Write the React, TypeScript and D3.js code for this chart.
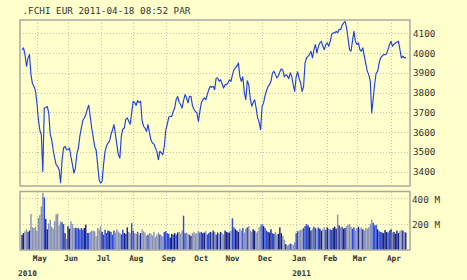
import React from 'react';
import * as d3 from 'd3';

// Daily closes (trading days), by month
const apr10 = [4017, 4026, 3990, 3933, 3975, 3992, 3891, 3845, 3832, 3810];
const may10 = [3750, 3665, 3610, 3587, 3402, 3722, 3725, 3730, 3697, 3590, 3562, 3510, 3469, 3436, 3427, 3410, 3345, 3460, 3520, 3528, 3511];
const jun10 = [3511, 3520, 3475, 3436, 3393, 3420, 3490, 3520, 3580, 3621, 3660, 3672, 3688, 3715, 3736, 3680, 3621, 3575, 3528, 3510, 3436, 3360];
const jul10 = [3343, 3351, 3436, 3503, 3530, 3545, 3554, 3587, 3610, 3638, 3590, 3537, 3486, 3469, 3580, 3615, 3621, 3665, 3672, 3655, 3640, 3700];
const aug10 = [3756, 3750, 3735, 3760, 3750, 3756, 3660, 3630, 3621, 3604, 3638, 3596, 3560, 3545, 3540, 3520, 3503, 3461, 3503, 3495, 3486, 3530];
const sep10 = [3610, 3640, 3675, 3680, 3680, 3705, 3722, 3765, 3781, 3750, 3740, 3722, 3760, 3790, 3773, 3748, 3781, 3781, 3735, 3716, 3705, 3697];
const oct10 = [3655, 3705, 3748, 3764, 3773, 3764, 3790, 3815, 3832, 3827, 3832, 3815, 3874, 3874, 3857, 3865, 3845, 3823, 3840, 3840, 3849];
const nov10 = [3865, 3857, 3890, 3916, 3925, 3935, 3950, 3882, 3857, 3880, 3800, 3764, 3860, 3840, 3770, 3731, 3750, 3764, 3722, 3672, 3650, 3613];
const dec10 = [3730, 3748, 3785, 3810, 3830, 3840, 3857, 3899, 3908, 3891, 3874, 3885, 3905, 3920, 3915, 3880, 3890, 3885, 3870, 3900, 3882, 3840, 3806];
const jan11 = [3880, 3905, 3870, 3850, 3806, 3830, 3950, 3975, 3983, 3992, 4009, 3975, 4017, 4043, 4000, 4034, 4051, 4059, 4034, 4017, 4043];
const feb11 = [4051, 4034, 4059, 4095, 4102, 4102, 4110, 4102, 4120, 4118, 4140, 4152, 4160, 4130, 4076, 4017, 4009, 4060, 4110, 4059];
const mar11 = [4043, 4051, 4017, 4009, 4026, 3984, 3945, 3908, 3891, 3860, 3697, 3770, 3845, 3899, 3907, 3950, 3975, 3984, 3992, 3992, 3995, 4017, 4043];
const apr11 = [4059, 4034, 4045, 4051, 4055, 4060, 4020, 3975, 3984, 3975, 3978];

// Daily volume (millions), by month
const apr10V = [118, 131, 144, 160, 140, 150, 278, 175, 170, 180];
const may10V = [150, 250, 270, 337, 441, 407, 240, 160, 205, 234, 180, 165, 221, 275, 282, 190, 221, 215, 200, 130, 85];
const jun10V = [183, 165, 221, 200, 170, 172, 168, 170, 157, 170, 157, 170, 196, 131, 131, 139, 149, 149, 144, 105, 170, 157];
const jul10V = [183, 140, 118, 157, 131, 150, 145, 140, 118, 150, 135, 160, 144, 131, 120, 157, 131, 125, 175, 140, 130, 208];
const aug10V = [150, 130, 125, 140, 118, 131, 160, 144, 135, 110, 118, 131, 125, 112, 140, 100, 118, 135, 120, 112, 105, 140];
const sep10V = [145, 130, 125, 95, 125, 120, 130, 118, 135, 140, 125, 150, 265, 130, 135, 125, 118, 110, 130, 140, 125, 130];
const oct10V = [150, 135, 140, 130, 135, 145, 120, 130, 140, 135, 150, 140, 118, 135, 125, 140, 130, 120, 150, 140, 135];
const nov10V = [135, 150, 245, 175, 160, 150, 140, 165, 150, 170, 135, 165, 175, 185, 150, 140, 160, 150, 135, 145, 175, 190];
const dec10V = [200, 185, 170, 150, 140, 135, 160, 130, 125, 140, 118, 125, 175, 130, 110, 80, 45, 35, 40, 50, 45, 40, 60];
const jan11V = [130, 145, 150, 155, 160, 170, 185, 200, 190, 175, 150, 165, 180, 170, 160, 175, 165, 150, 160, 175, 155];
const feb11V = [175, 165, 160, 155, 170, 180, 165, 273, 190, 175, 180, 165, 170, 185, 195, 200, 180, 165, 175, 150];
const mar11V = [170, 180, 165, 175, 160, 150, 170, 165, 175, 200, 234, 210, 190, 195, 160, 145, 140, 135, 130, 155, 140, 135, 150];
const apr11V = [160, 135, 140, 125, 150, 130, 145, 155, 150, 140, 135];

const priceTicks = [3400, 3500, 3600, 3700, 3800, 3900, 4000, 4100];
const volTicks = [200, 400];
const monthLabels = ['May', 'Jun', 'Jul', 'Aug', 'Sep', 'Oct', 'Nov', 'Dec', 'Jan', 'Feb', 'Mar', 'Apr'];
const yearLabels = ['2010', '2011'];
const title = '.FCHI EUR 2011-04-18 08:52 PAR';

const closes = [...apr10, ...may10, ...jun10, ...jul10, ...aug10, ...sep10, ...oct10, ...nov10, ...dec10, ...jan11, ...feb11, ...mar11, ...apr11];
const volumes = [...apr10V, ...may10V, ...jun10V, ...jul10V, ...aug10V, ...sep10V, ...oct10V, ...nov10V, ...dec10V, ...jan11V, ...feb11V, ...mar11V, ...apr11V];

// trading dates (weekdays) 2010-04-19 .. 2011-04-15
const dates = d3.utcDay
  .range(new Date(Date.UTC(2010, 3, 19)), new Date(Date.UTC(2011, 3, 16)))
  .filter((d) => d.getUTCDay() !== 0 && d.getUTCDay() !== 6);

const W = 467;
const H = 280;
const BG = '#ffffcc';
const FRAME = '#a9a9a2';
const GRID = '#c4c4b0';
const TEXT = '#333333';
const MONO = '"DejaVu Sans Mono", monospace';

export default function App() {
  const n = closes.length;
  const x = d3.scaleLinear().domain([0, n - 1]).range([22.07, 405.8]);
  const yP = d3.scaleLinear().domain([3328, 4167]).range([186, 20]);
  const yV = d3.scaleLinear().domain([0, 452]).range([250, 191.5]);

  const line = d3
    .line<number>()
    .x((_, i) => x(i))
    .y((v) => yP(v));

  const monthStarts: number[] = [];
  for (let i = 1; i < dates.length; i++) {
    if (dates[i].getUTCMonth() !== dates[i - 1].getUTCMonth()) monthStarts.push(i);
  }
  const janIdx = monthStarts.find((i) => dates[i].getUTCMonth() === 0) ?? 0;
  const yearPos = [x(0) - 4, x(janIdx) - 4];

  const pTop = 20, pBot = 186, vTop = 191.5, vBot = 250, left = 20, right = 410;
  const barColors = ['#14208e', '#2a48dc', '#8890ba'];

  return (
    <svg width={W} height={H} style={{ position: 'absolute', left: 0, top: 0 }}>
      <rect x={0} y={0} width={W} height={H} fill={BG} />
      <g stroke={GRID} strokeWidth={1} strokeDasharray="1,2" shapeRendering="crispEdges">
        {priceTicks.map((t) => (
          <line key={'hp' + t} x1={left} x2={right} y1={Math.round(yP(t)) + 0.5} y2={Math.round(yP(t)) + 0.5} />
        ))}
        {volTicks.map((t) => (
          <line key={'hv' + t} x1={left} x2={right} y1={Math.round(yV(t)) + 0.5} y2={Math.round(yV(t)) + 0.5} />
        ))}
        {monthStarts.map((i) => (
          <g key={'vg' + i}>
            <line x1={Math.round(x(i)) + 0.5} x2={Math.round(x(i)) + 0.5} y1={pTop} y2={pBot} />
            <line x1={Math.round(x(i)) + 0.5} x2={Math.round(x(i)) + 0.5} y1={vTop} y2={vBot} />
          </g>
        ))}
      </g>
      <g>
        {volumes.map((v, i) => {
          const diff = i === 0 ? 1 : closes[i] - closes[i - 1];
          const c = diff < 0 ? barColors[2] : diff > 20 ? barColors[1] : barColors[0];
          return (
            <rect
              key={'b' + i}
              x={x(i) - 0.7}
              y={yV(v)}
              width={1.4}
              height={yV(0) - yV(v)}
              fill={c}
            />
          );
        })}
      </g>
      <path d={line(closes) || ''} fill="none" stroke="#2040e0" strokeWidth={1.15} strokeLinejoin="round" />
      <rect x={left} y={pTop} width={right - left} height={pBot - pTop} fill="none" stroke={FRAME} strokeWidth={1.5} />
      <rect x={left} y={vTop} width={right - left} height={vBot - vTop} fill="none" stroke={FRAME} strokeWidth={1.5} />
      <text x={22.5} y={10.7} dominantBaseline="central" fontFamily={MONO} fontSize={9.3} fill={TEXT}>
        {title}
      </text>
      {priceTicks.map((t) => (
        <text key={'pl' + t} x={413} y={yP(t)} dominantBaseline="central" fontFamily={MONO} fontSize={9.3} fill={TEXT}>
          {t}
        </text>
      ))}
      {volTicks.map((t) => (
        <text key={'vl' + t} x={412} y={yV(t) + 0.8} dominantBaseline="central" fontFamily={MONO} fontSize={9.3} fill={TEXT}>
          {t + ' M'}
        </text>
      ))}
      {monthStarts.map((i, k) => (
        <text
          key={'ml' + i}
          x={x(i) + 3}
          y={258}
          textAnchor="middle"
          dominantBaseline="central"
          fontFamily={MONO}
          fontWeight="bold"
          fontSize={7.8}
          fill={TEXT}
        >
          {monthLabels[k]}
        </text>
      ))}
      {yearLabels.map((yl, k) => (
        <text
          key={'yl' + yl}
          x={yearPos[k]}
          y={273}
          dominantBaseline="central"
          fontFamily={MONO}
          fontWeight="bold"
          fontSize={7.8}
          fill={TEXT}
        >
          {yl}
        </text>
      ))}
    </svg>
  );
}
